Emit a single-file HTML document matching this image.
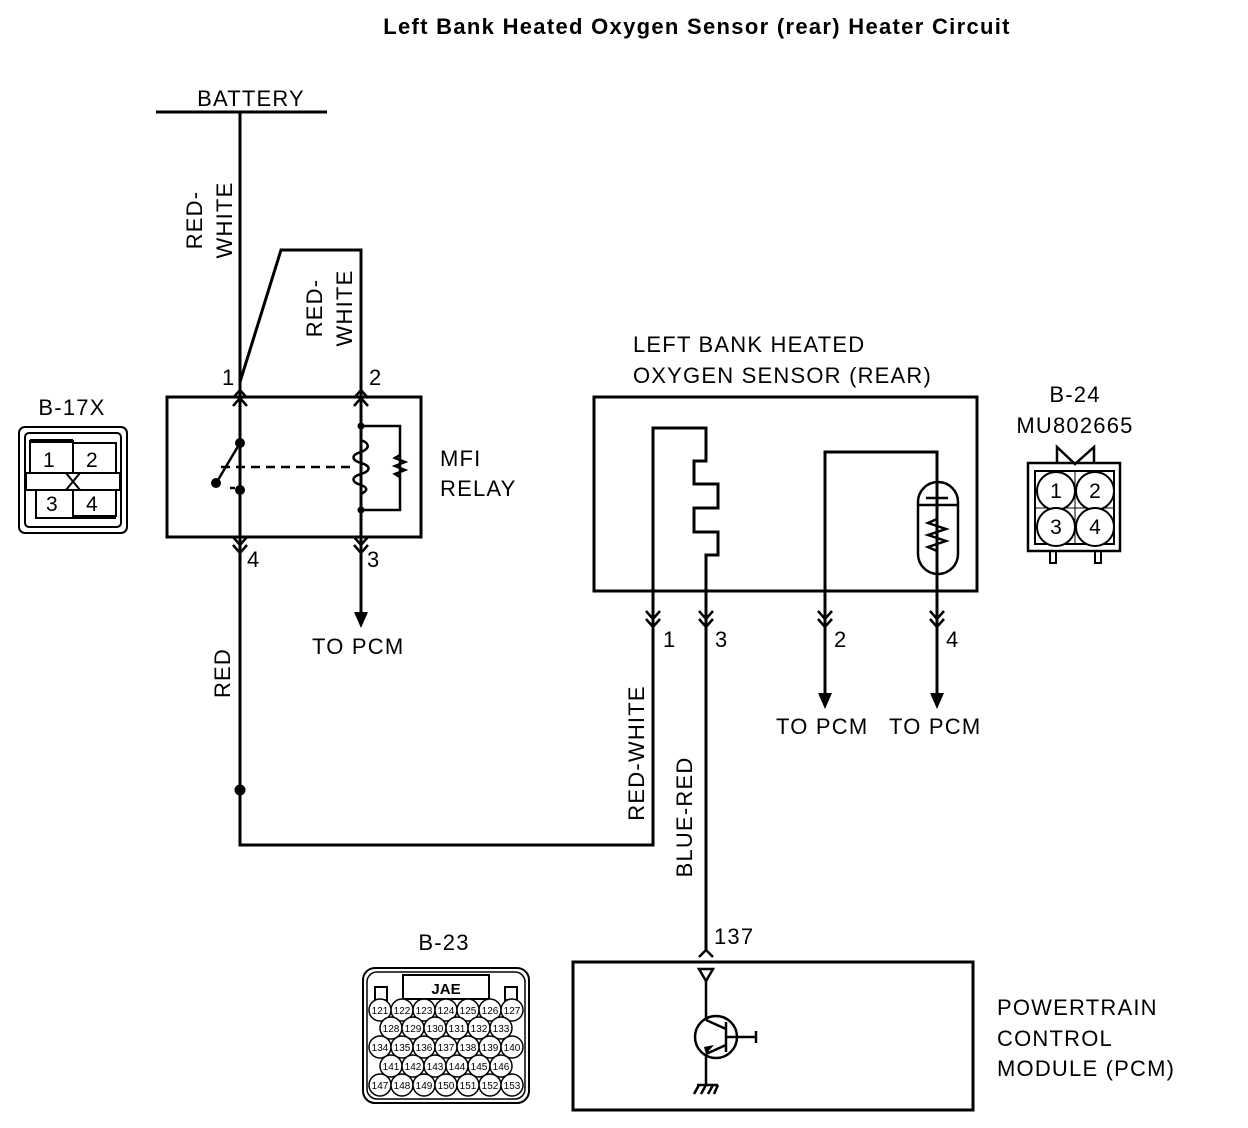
<!DOCTYPE html>
<html><head><meta charset="utf-8"><style>
html,body{margin:0;padding:0;background:#fff;}
svg{display:block;}
text{font-family:"Liberation Sans",sans-serif;fill:#000;}
.l{font-size:22px;letter-spacing:1.2px;}
</style></head><body>
<svg width="1248" height="1128" viewBox="0 0 1248 1128" xmlns="http://www.w3.org/2000/svg">
<defs>
<g id="up"><path d="M-7,8 L0,0 L7,8 M-7,16 L0,8 L7,16" fill="none" stroke="#000" stroke-width="2.5"/></g>
<g id="dn"><path d="M-7,-8 L0,0 L7,-8 M-7,-16 L0,-8 L7,-16" fill="none" stroke="#000" stroke-width="2.5"/></g>
</defs>
<text x="697" y="34" font-size="22" letter-spacing="1.3" font-weight="bold" text-anchor="middle">Left Bank Heated Oxygen Sensor (rear) Heater Circuit</text>

<g stroke="#000" stroke-width="3" fill="none">
<line x1="156" y1="112" x2="327" y2="112"/>
<polyline points="240,112 240,845 653,845 653,600"/>
<polyline points="240,382 281,250 361,250 361,612"/>
<rect x="167" y="397" width="254" height="140"/>
<rect x="594" y="397" width="383" height="194"/>
<polyline points="653,600 653,428 706,428 706,461 694,461 694,484 718,484 718,508 694,508 694,532 718,532 718,555 706,555 706,950"/>
<polyline points="825,695 825,452 937,452 937,695"/>
<rect x="573" y="962" width="400" height="148"/>
</g>
<!-- relay internals -->
<g stroke="#000" stroke-width="2.5" fill="none">
<line x1="240" y1="397" x2="240" y2="443"/>
<line x1="240" y1="443" x2="218" y2="480"/>
<line x1="240" y1="490" x2="240" y2="537"/>
<line x1="230" y1="488" x2="235" y2="488"/>
<line x1="221" y1="467" x2="352" y2="467" stroke-dasharray="9,6"/>
<polyline points="361,426 400,426 400,510 361,510"/>
<path d="M400,455 l-5,3 l10,4 l-10,4 l10,4 l-10,4 l5,3"/>
<line x1="361" y1="397" x2="361" y2="440"/>
<line x1="361" y1="493" x2="361" y2="537"/>
</g>
<path d="M361,440 c8,3 10,8 0,12 c-10,3 -10,8 0,11 c10,3 10,8 0,11 c-10,3 -10,8 0,11 c8,3 6,6 0,9" stroke="#000" stroke-width="2.5" fill="none"/>
<g fill="#000">
<circle cx="240" cy="443" r="5"/><circle cx="216" cy="483" r="5"/><circle cx="240" cy="490" r="5"/>
<circle cx="361" cy="426" r="3.5"/><circle cx="361" cy="510" r="3.5"/>
<circle cx="240" cy="790" r="5.5"/>
<path d="M354,612 L368,612 L361,628 Z"/>
<path d="M818,693 L832,693 L825,709 Z"/>
<path d="M930,693 L944,693 L937,709 Z"/>
</g>
<use href="#up" x="240" y="390"/><use href="#up" x="361" y="390"/>
<use href="#dn" x="240" y="553"/><use href="#dn" x="361" y="553"/>
<use href="#dn" x="653" y="627"/><use href="#dn" x="706" y="627"/>
<use href="#dn" x="825" y="627"/><use href="#dn" x="937" y="627"/>
<path d="M699,957 L706,950 L713,957" fill="none" stroke="#000" stroke-width="2.5"/>
<!-- capsule -->
<g stroke="#000" stroke-width="2.5" fill="none">
<rect x="918" y="482" width="40" height="92" rx="20"/>
<line x1="918" y1="505" x2="958" y2="505"/>
<line x1="926" y1="498" x2="948" y2="498"/>
<polyline points="937,452 937,498"/>
<polyline points="937,505 937,519 928,523 946,529 928,535 946,541 928,547 937,551 937,574"/>
</g>
<!-- PCM transistor -->
<g stroke="#000" stroke-width="2.5" fill="none">
<path d="M699,969 L713,969 L706,981 Z"/>
<line x1="706" y1="981" x2="706" y2="1020"/>
<circle cx="716" cy="1037" r="21"/>
<line x1="706" y1="1020" x2="726" y2="1029"/>
<line x1="726" y1="1022" x2="726" y2="1052"/>
<line x1="726" y1="1045" x2="706" y2="1054"/>
<line x1="706" y1="1054" x2="706" y2="1085"/>
<line x1="726" y1="1037" x2="756" y2="1037"/>
<line x1="756" y1="1031" x2="756" y2="1043"/>
<line x1="697" y1="1085" x2="718" y2="1085"/>
<path d="M699,1085 l-5,9 M706,1085 l-5,9 M713,1085 l-5,9 M718,1085 l-4,9"/>
</g>
<path d="M706,1054 l8,-9 l-10,2 z" fill="#000"/>

<!-- labels -->
<g class="l">
<text x="251" y="106" text-anchor="middle">BATTERY</text>
<text x="222" y="385">1</text><text x="369" y="385">2</text>
<text x="247" y="567">4</text><text x="367" y="567">3</text>
<text x="312" y="654">TO PCM</text>
<text x="440" y="466">MFI</text><text x="440" y="496">RELAY</text>
<text x="633" y="352">LEFT BANK HEATED</text>
<text x="633" y="383">OXYGEN SENSOR (REAR)</text>
<text x="663" y="647">1</text><text x="715" y="647">3</text>
<text x="834" y="647">2</text><text x="946" y="647">4</text>
<text x="776" y="734">TO PCM</text><text x="889" y="734">TO PCM</text>
<text x="714" y="944">137</text>
<text x="997" y="1015">POWERTRAIN</text>
<text x="997" y="1046">CONTROL</text>
<text x="997" y="1076">MODULE (PCM)</text>
<text x="72" y="415" text-anchor="middle">B-17X</text>
<text x="1075" y="402" text-anchor="middle">B-24</text>
<text x="1075" y="433" text-anchor="middle">MU802665</text>
<text x="444" y="950" text-anchor="middle">B-23</text>
<text transform="translate(202,220) rotate(-90)" text-anchor="middle">RED-</text>
<text transform="translate(232,220) rotate(-90)" text-anchor="middle">WHITE</text>
<text transform="translate(322,308) rotate(-90)" text-anchor="middle">RED-</text>
<text transform="translate(352,308) rotate(-90)" text-anchor="middle">WHITE</text>
<text transform="translate(230,673) rotate(-90)" text-anchor="middle">RED</text>
<text transform="translate(644,753) rotate(-90)" text-anchor="middle">RED-WHITE</text>
<text transform="translate(692,817) rotate(-90)" text-anchor="middle">BLUE-RED</text>
</g>

<!-- B-17X -->
<g stroke="#000" fill="none" stroke-width="2">
<rect x="19" y="427" width="108" height="106" rx="6"/>
<rect x="25" y="433" width="96" height="94" rx="4"/>
<rect x="30" y="441" width="43" height="32"/>
<rect x="73" y="443" width="43" height="30"/>
<rect x="26" y="473" width="94" height="17"/>
<rect x="36" y="490" width="37" height="28"/>
<rect x="73" y="490" width="43" height="26"/>
<line x1="66" y1="473" x2="80" y2="490"/><line x1="80" y1="473" x2="66" y2="490"/>
</g>
<rect x="30" y="439" width="43" height="4" fill="#000"/>
<rect x="73" y="515" width="43" height="4" fill="#000"/>
<g font-size="21"><text x="43" y="467">1</text><text x="86" y="467">2</text><text x="46" y="511">3</text><text x="86" y="511">4</text></g>

<!-- B-24 -->
<g stroke="#000" fill="none" stroke-width="2.5">
<polyline points="1057,463 1057,447 1075,464 1094,447 1094,463"/>
<rect x="1028" y="463" width="92" height="88"/>
<rect x="1035" y="471" width="79" height="73" stroke-width="2"/>
<line x1="1075" y1="471" x2="1075" y2="544" stroke-width="1"/>
<line x1="1035" y1="508" x2="1114" y2="508" stroke-width="1"/>
<circle cx="1056" cy="491" r="19" fill="#fff" stroke-width="2"/>
<circle cx="1095" cy="491" r="19" fill="#fff" stroke-width="2"/>
<circle cx="1056" cy="527" r="19" fill="#fff" stroke-width="2"/>
<circle cx="1095" cy="527" r="19" fill="#fff" stroke-width="2"/>
<rect x="1050" y="551" width="6" height="12" stroke-width="2"/>
<rect x="1095" y="551" width="6" height="12" stroke-width="2"/>
</g>
<g font-size="21" text-anchor="middle"><text x="1056" y="498">1</text><text x="1095" y="498">2</text><text x="1056" y="534">3</text><text x="1095" y="534">4</text></g>

<!-- B-23 -->
<g stroke="#000" fill="none" stroke-width="2">
<rect x="363" y="968" width="166" height="135" rx="12"/>
<rect x="367" y="972" width="158" height="127" rx="10" stroke-width="1.5"/>
<rect x="403" y="975" width="86" height="24"/>
<rect x="375" y="987" width="12" height="13"/>
<rect x="505" y="987" width="12" height="13"/>
</g>
<text x="446" y="994" font-size="15" font-weight="bold" text-anchor="middle" font-family="Liberation Serif">JAE</text>
<g stroke="#000" stroke-width="1.5" fill="#fff">
<circle cx="380" cy="1010" r="11"/><circle cx="402" cy="1010" r="11"/><circle cx="424" cy="1010" r="11"/><circle cx="446" cy="1010" r="11"/><circle cx="468" cy="1010" r="11"/><circle cx="490" cy="1010" r="11"/><circle cx="512" cy="1010" r="11"/>
<circle cx="391" cy="1028" r="11"/><circle cx="413" cy="1028" r="11"/><circle cx="435" cy="1028" r="11"/><circle cx="457" cy="1028" r="11"/><circle cx="479" cy="1028" r="11"/><circle cx="501" cy="1028" r="11"/>
<circle cx="380" cy="1047" r="11"/><circle cx="402" cy="1047" r="11"/><circle cx="424" cy="1047" r="11"/><circle cx="446" cy="1047" r="11"/><circle cx="468" cy="1047" r="11"/><circle cx="490" cy="1047" r="11"/><circle cx="512" cy="1047" r="11"/>
<circle cx="391" cy="1066" r="11"/><circle cx="413" cy="1066" r="11"/><circle cx="435" cy="1066" r="11"/><circle cx="457" cy="1066" r="11"/><circle cx="479" cy="1066" r="11"/><circle cx="501" cy="1066" r="11"/>
<circle cx="380" cy="1085" r="11"/><circle cx="402" cy="1085" r="11"/><circle cx="424" cy="1085" r="11"/><circle cx="446" cy="1085" r="11"/><circle cx="468" cy="1085" r="11"/><circle cx="490" cy="1085" r="11"/><circle cx="512" cy="1085" r="11"/>
</g>
<g font-size="10" text-anchor="middle">
<text x="380" y="1014">121</text><text x="402" y="1014">122</text><text x="424" y="1014">123</text><text x="446" y="1014">124</text><text x="468" y="1014">125</text><text x="490" y="1014">126</text><text x="512" y="1014">127</text>
<text x="391" y="1032">128</text><text x="413" y="1032">129</text><text x="435" y="1032">130</text><text x="457" y="1032">131</text><text x="479" y="1032">132</text><text x="501" y="1032">133</text>
<text x="380" y="1051">134</text><text x="402" y="1051">135</text><text x="424" y="1051">136</text><text x="446" y="1051">137</text><text x="468" y="1051">138</text><text x="490" y="1051">139</text><text x="512" y="1051">140</text>
<text x="391" y="1070">141</text><text x="413" y="1070">142</text><text x="435" y="1070">143</text><text x="457" y="1070">144</text><text x="479" y="1070">145</text><text x="501" y="1070">146</text>
<text x="380" y="1089">147</text><text x="402" y="1089">148</text><text x="424" y="1089">149</text><text x="446" y="1089">150</text><text x="468" y="1089">151</text><text x="490" y="1089">152</text><text x="512" y="1089">153</text>
</g>
</svg>
</body></html>
